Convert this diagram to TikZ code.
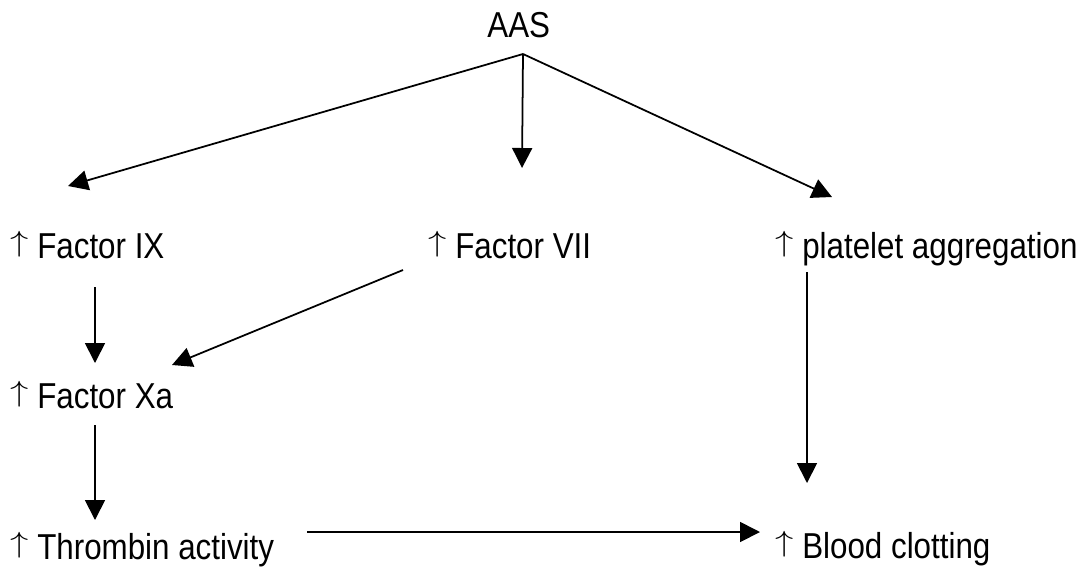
\documentclass[tikz,border=0pt]{standalone}
\usepackage{fontspec}
\usepackage{graphicx}
\setmainfont{Liberation Sans}[FakeStretch=0.87]
\usetikzlibrary{arrows.meta,calc}
% thin "increase" arrow sitting on the baseline
\newcommand{\incr}{\raisebox{.17em}{\scalebox{1}[.8]{$\uparrow$}}\ }

\begin{document}
\begin{tikzpicture}[x=0.02cm, y=-0.02cm,
    every node/.style={anchor=base west, inner sep=0pt, font=\fontsize{20.5}{24}\selectfont},
    flow/.style={line width=1pt, -{Triangle[length=0.4cm, width=0.4cm]}}]
    % Fix the page to the reference size
    \useasboundingbox (0,0) rectangle (1085,566);

    % Top node and the point where its three arrows split
    \node (aas) at (487,37) {AAS};
    \coordinate (split) at ($(aas.base west)+(36,17)$);

    % First row
    \node (f9)  at (10,258)  {\incr Factor IX};
    \node (f7)  at (428,258) {\incr Factor VII};
    \node (plt) at (775,258) {\incr platelet aggregation};

    % Lower rows
    \node (fxa)  at (10,408)  {\incr Factor Xa};
    \node (thr)  at (10,559)  {\incr Thrombin activity};
    \node (clot) at (775,558) {\incr Blood clotting};

    % AAS to the first row
    \draw[flow] (split) -- ($(f9.base west)+(58,-72)$);
    \draw[flow] (split) -- ($(f7.base west)+(94,-90)$);
    \draw[flow] (split) -- ($(plt.base west)+(57,-61)$);

    % Factors to Xa and thrombin
    \draw[flow] ($(f9.base west)+(85,29)$) -- ($(fxa.base west)+(85,-45)$);
    \draw[flow] ($(f7.base west)+(-25,12)$) -- ($(fxa.base west)+(162,-43)$);
    \draw[flow] ($(fxa.base west)+(85,17)$) -- ($(thr.base west)+(85,-39)$);

    % Into blood clotting
    \draw[flow] ($(plt.base west)+(32,14)$) -- ($(clot.base west)+(32,-75)$);
    \draw[flow] ($(thr.base west)+(297,-27)$) -- ($(clot.base west)+(-15,-26)$);
\end{tikzpicture}
\end{document}
